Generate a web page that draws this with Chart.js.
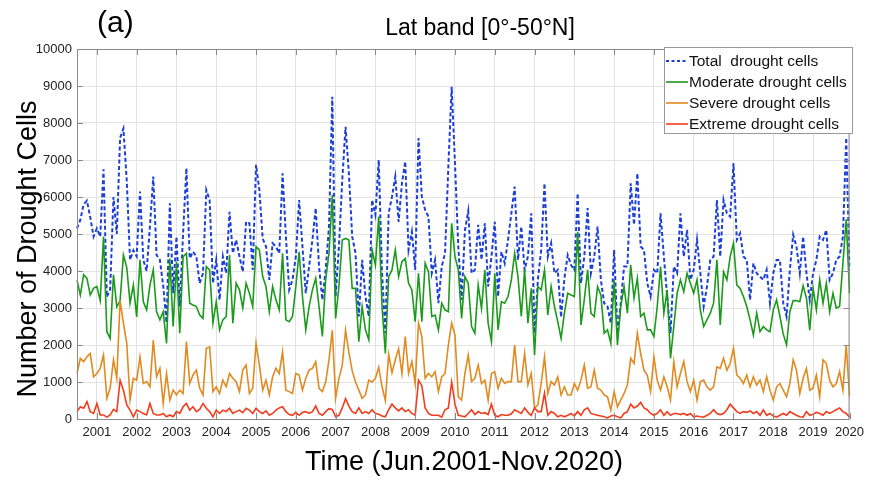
<!DOCTYPE html>
<html>
<head>
<meta charset="utf-8">
<script src="https://cdn.jsdelivr.net/npm/chart.js@4.4.1/dist/chart.umd.min.js"></script>
<style>
  html, body { margin: 0; padding: 0; background: #fff; }
  #wrap { width: 870px; height: 480px; }
</style>
</head>
<body>
<div id="wrap"><canvas id="chart" width="870" height="480"></canvas></div>
<script>
// monthly series, Jun 2001 .. Nov 2020 (234 months)
const monthNames = ["Jan","Feb","Mar","Apr","May","Jun","Jul","Aug","Sep","Oct","Nov","Dec"];
const months = [];
for (let k = 0; k < 234; k++) {
  const m = (5 + k) % 12;
  const yr = 2001 + Math.floor((5 + k) / 12);
  months.push(monthNames[m] + " " + yr);
}

const yearTickIndex = [6, 18, 30, 42, 54, 66, 78, 90, 102, 114, 126, 138, 150, 162, 174, 186, 198, 210, 222, 233];
const yearTickLabels = ["2001","2002","2003","2004","2005","2006","2007","2008","2009","2010",
  "2011","2012","2013","2014","2015","2016","2017","2018","2019","2020"];

const totalCells = [
  5150,5380,5800,5900,5450,4930,5150,4930,6750,3300, 3500,6000,5000,7600,7850,6450,4300,4560,4400,6150,
  4300,4000,5200,6550,4430,4300,3600,2600,5830,3400, 4930,3040,5030,6780,4340,4520,4390,3670,3940,6190,
  5920,3670,4300,3220,4390,3940,5600,4480,4840,4390, 3980,5330,5290,4030,6870,6190,4880,4660,3760,4750,
  4660,4480,6640,4930,3490,3760,4390,5920,4660,3400, 4120,4840,5700,4120,3220,4030,5200,8710,3310,4660,
  6460,7900,6640,4930,4480,2770,4300,3310,2770,5920, 5520,7000,3940,2320,5560,6010,6550,5330,6370,6960,
  4570,5060,4030,7590,6010,5650,5470,3940,4300,3130, 4120,4480,6820,8980,6910,4660,3220,5100,5620,3940,
  4030,5250,4300,5290,3580,4390,5330,3310,4520,4210, 4840,5560,6280,4300,5200,4030,4390,5560,2320,3760,
  4570,6370,4390,4750,3940,4030,2750,3800,4430,4160, 4030,6100,3670,4390,5700,3940,4390,5200,3760,3130,
  3040,2590,4570,2320,3130,4120,4120,6370,5250,6640, 4660,4570,3670,3310,4030,3940,5560,4390,3310,2320,
  4120,3940,5560,4390,5110,3760,4030,4840,3940,3040, 3580,4300,4390,5920,4390,5920,5560,5470,6910,4840,
  5020,4390,4300,3220,4210,3940,3850,3760,4030,3130, 3940,4300,4300,3130,2770,4030,4980,4660,3940,4930,
  3940,3220,3940,4300,4930,4840,5110,3760,3940,4300, 4390,4930,7600,4030
];

const moderateCells = [
  3750,3350,3900,3800,3350,3530,3580,3200,4930,2360, 2180,3900,3030,3200,4430,4100,3130,3620,2760,4300,
  3170,2950,3620,4030,2900,2680,2900,2040,4340,2500, 4250,2320,4390,4480,3130,3080,3040,2810,2720,4120,
  4030,2590,3170,2410,2680,2770,4430,2590,3670,3490, 3000,3670,3400,3040,4660,4570,3850,3580,2900,3580,
  3220,2950,4480,2680,2630,2770,3580,4520,3310,2410, 3040,3490,3800,3040,2230,3760,4480,6050,2720,3580,
  4840,4880,4840,3530,3530,2090,3040,2410,2140,4570, 4160,5470,3040,1770,3850,4030,4570,3850,4250,4340,
  3670,3490,2630,3940,2630,4210,3980,2770,2810,2410, 3130,2950,2900,5290,4390,4030,2720,3850,3670,2500,
  2320,3620,2990,4030,2590,2090,3940,2410,3170,3130, 3310,3760,4480,3850,2770,4030,2590,3530,1730,3580,
  3490,4030,2810,3580,3040,2630,2180,2860,3400,3350, 3310,5060,2540,3220,4030,2860,2770,3580,3350,2320,
  2410,2040,3760,2000,3040,3580,2860,4160,3270,3800, 2770,2860,2410,2410,2230,3040,4120,2860,3490,1640,
  2500,3400,3760,3440,3940,3670,3400,3760,2950,2500, 2680,2860,3130,4300,2540,3980,3760,4390,4750,3620,
  3530,3310,3040,2680,2270,2860,2360,2500,2410,2360, 2950,3220,2770,2300,2000,2900,3200,3200,3170,3600,
  3270,2400,3530,2950,3760,3130,3670,2900,3400,3000, 3040,4200,5400,3400
];

const severeCells = [
  1230,1640,1550,1680,1770,1140,1230,1370,1730,560, 830,1600,1100,3200,2590,2050,510,1100,1050,1680,
  960,1010,870,2130,1140,1370,420,1230,510,780, 650,780,690,2090,960,1190,1320,830,650,1910,
  1950,740,870,690,1050,870,1230,1100,1010,740, 1320,1460,690,830,2050,1460,780,1050,650,1140,
  1370,1230,1820,780,740,690,1230,1190,780,1100, 1320,1370,1550,830,740,1000,1600,2400,560,1100,
  1450,2400,1800,1300,1000,780,560,650,1050,1000, 1100,1400,870,500,1750,1250,1600,1900,1230,2230,
  1230,1550,960,2590,2230,1100,1230,1140,1280,740, 1140,1230,2000,2590,2270,600,510,1230,1730,1010,
  1100,1460,960,1050,510,1230,1280,830,1100,960, 1010,1010,2000,1010,1010,1770,920,1230,290,380,
  960,1680,690,1010,920,1140,650,870,650,650, 960,780,1050,1460,830,870,1320,830,780,650,
  600,240,740,330,510,690,920,1640,1500,2320, 1770,1320,1190,740,1680,1050,780,1140,870,510,
  1550,870,1230,1550,1010,740,1050,510,1010,1050, 870,780,870,1410,1370,1640,1320,1500,1910,1190,
  1100,960,1190,870,1140,920,1050,740,1140,780, 510,870,960,780,600,960,1600,1320,690,1100,
  1370,780,830,1190,600,1600,1500,1050,870,960, 1280,780,2000,600
];

const extremeCells = [
  200,330,290,470,200,150,420,110,110,50, 110,260,200,1050,780,380,240,60,240,200,
  150,110,420,150,110,110,150,60,110,60, 200,150,330,420,240,330,200,260,420,290,
  200,60,240,150,240,200,290,150,200,240, 170,290,240,150,290,200,150,220,100,150,
  240,300,330,200,120,100,180,100,180,200, 150,200,350,150,100,200,280,260,60,100,
  300,550,350,200,150,300,150,200,150,250, 150,130,80,60,250,400,300,220,300,200,
  250,150,100,1050,900,300,150,100,100,100, 50,250,300,1000,400,100,80,60,150,250,
  120,200,150,170,120,400,100,60,120,100, 100,140,250,200,150,300,180,100,300,200,
  200,700,100,200,150,60,100,60,100,150, 80,200,100,250,300,150,120,100,80,60,
  30,80,100,60,30,150,200,400,300,350, 450,300,250,150,100,150,250,100,200,100,
  150,150,120,150,100,150,60,80,60,50, 100,150,250,150,120,150,250,400,300,200,
  150,200,180,220,150,200,100,250,100,150, 80,50,100,150,100,200,150,100,60,50,
  200,100,130,180,150,100,200,150,200,250, 300,200,150,50
];

const FONT = "'Liberation Sans', Arial, Helvetica, sans-serif";

const seriesStyle = [
  { label: "Total  drought cells",    data: totalCells,    color: "#1c3fd8", dash: [4, 2.5], width: 2,   order: 4 },
  { label: "Moderate drought cells",  data: moderateCells, color: "#1b9a1b", dash: [],       width: 1.6, order: 3 },
  { label: "Severe drought cells",    data: severeCells,   color: "#e08a20", dash: [],       width: 1.6, order: 2 },
  { label: "Extreme drought cells",   data: extremeCells,  color: "#f23c1c", dash: [],       width: 1.6, order: 1 }
];

// axes box, inward ticks, legend and texts
const decorations = {
  id: "decorations",
  afterDraw(chart) {
    const { ctx, chartArea: a, scales: { x, y } } = chart;
    ctx.save();
    ctx.strokeStyle = "#8a8a8a";
    ctx.lineWidth = 1;
    ctx.strokeRect(a.left + 0.5, a.top + 0.5, a.right - a.left - 1, a.bottom - a.top);
    ctx.beginPath();
    x.ticks.forEach((t, i) => {
      const px = Math.round(x.getPixelForTick(i)) + 0.5;
      ctx.moveTo(px, a.top); ctx.lineTo(px, a.top + 6);
      ctx.moveTo(px, a.bottom); ctx.lineTo(px, a.bottom - 6);
    });
    y.ticks.forEach((t, i) => {
      const py = Math.round(y.getPixelForTick(i)) + 0.5;
      ctx.moveTo(a.left, py); ctx.lineTo(a.left + 6, py);
      ctx.moveTo(a.right, py); ctx.lineTo(a.right - 6, py);
    });
    ctx.stroke();

    // legend box inside the axes
    const lx = 664, ly = 47, lw = 188, lh = 86;
    ctx.fillStyle = "#fff";
    ctx.fillRect(lx, ly, lw, lh);
    ctx.strokeStyle = "#999";
    ctx.strokeRect(lx + 0.5, ly + 0.5, lw, lh);
    ctx.font = "15.5px " + FONT;
    ctx.textBaseline = "middle";
    ctx.textAlign = "left";
    seriesStyle.forEach((s, i) => {
      const ry = 61 + i * 21;
      ctx.strokeStyle = s.color;
      ctx.lineWidth = s.width;
      ctx.setLineDash(s.dash.length ? [3, 2.5] : []);
      ctx.beginPath();
      ctx.moveTo(666, ry); ctx.lineTo(688, ry);
      ctx.stroke();
      ctx.setLineDash([]);
      ctx.fillStyle = "#111";
      ctx.fillText(s.label, 689, ry + 1);
    });

    ctx.fillStyle = "#000";
    ctx.font = "30px " + FONT;
    ctx.fillText("(a)", 97, 24);
    ctx.textAlign = "center";
    ctx.font = "23px " + FONT;
    ctx.fillText("Lat band [0\u00b0-50\u00b0N]", 480, 29);
    ctx.font = "27px " + FONT;
    ctx.fillText("Time (Jun.2001-Nov.2020)", 464, 463);
    ctx.translate(29, 249);
    ctx.rotate(-Math.PI / 2);
    ctx.fillText("Number of Drought Cells", 0, 0);
    ctx.restore();
  }
};

new Chart(document.getElementById("chart"), {
  type: "line",
  data: {
    labels: months,
    datasets: seriesStyle.map(s => ({
      label: s.label,
      data: s.data,
      borderColor: s.color,
      borderWidth: s.width,
      borderDash: s.dash,
      pointRadius: 0,
      tension: 0,
      fill: false,
      order: s.order
    }))
  },
  options: {
    responsive: false,
    animation: false,
    devicePixelRatio: 1,
    layout: { padding: { top: 49, right: 17, left: 0, bottom: 0 } },
    plugins: {
      legend: { display: false },
      title: { display: false },
      tooltip: { enabled: false }
    },
    scales: {
      x: {
        type: "category",
        offset: false,
        afterBuildTicks: (scale) => {
          scale.ticks = yearTickIndex.map(v => ({ value: v }));
        },
        afterFit: (scale) => { scale.height = 61; },
        grid: { color: "#e3e3e3", drawTicks: false },
        border: { display: false },
        ticks: {
          autoSkip: false,
          maxRotation: 0,
          minRotation: 0,
          padding: 6,
          color: "#222",
          font: { family: FONT, size: 13 },
          callback: (value, index) => yearTickLabels[index]
        }
      },
      y: {
        min: 0,
        max: 10000,
        afterFit: (scale) => { scale.width = 77; },
        grid: { color: "#e3e3e3", drawTicks: false },
        border: { display: false },
        ticks: {
          stepSize: 1000,
          padding: 5,
          color: "#222",
          font: { family: FONT, size: 13 },
          callback: (value) => String(value)
        }
      }
    }
  },
  plugins: [decorations]
});
</script>
</body>
</html>
